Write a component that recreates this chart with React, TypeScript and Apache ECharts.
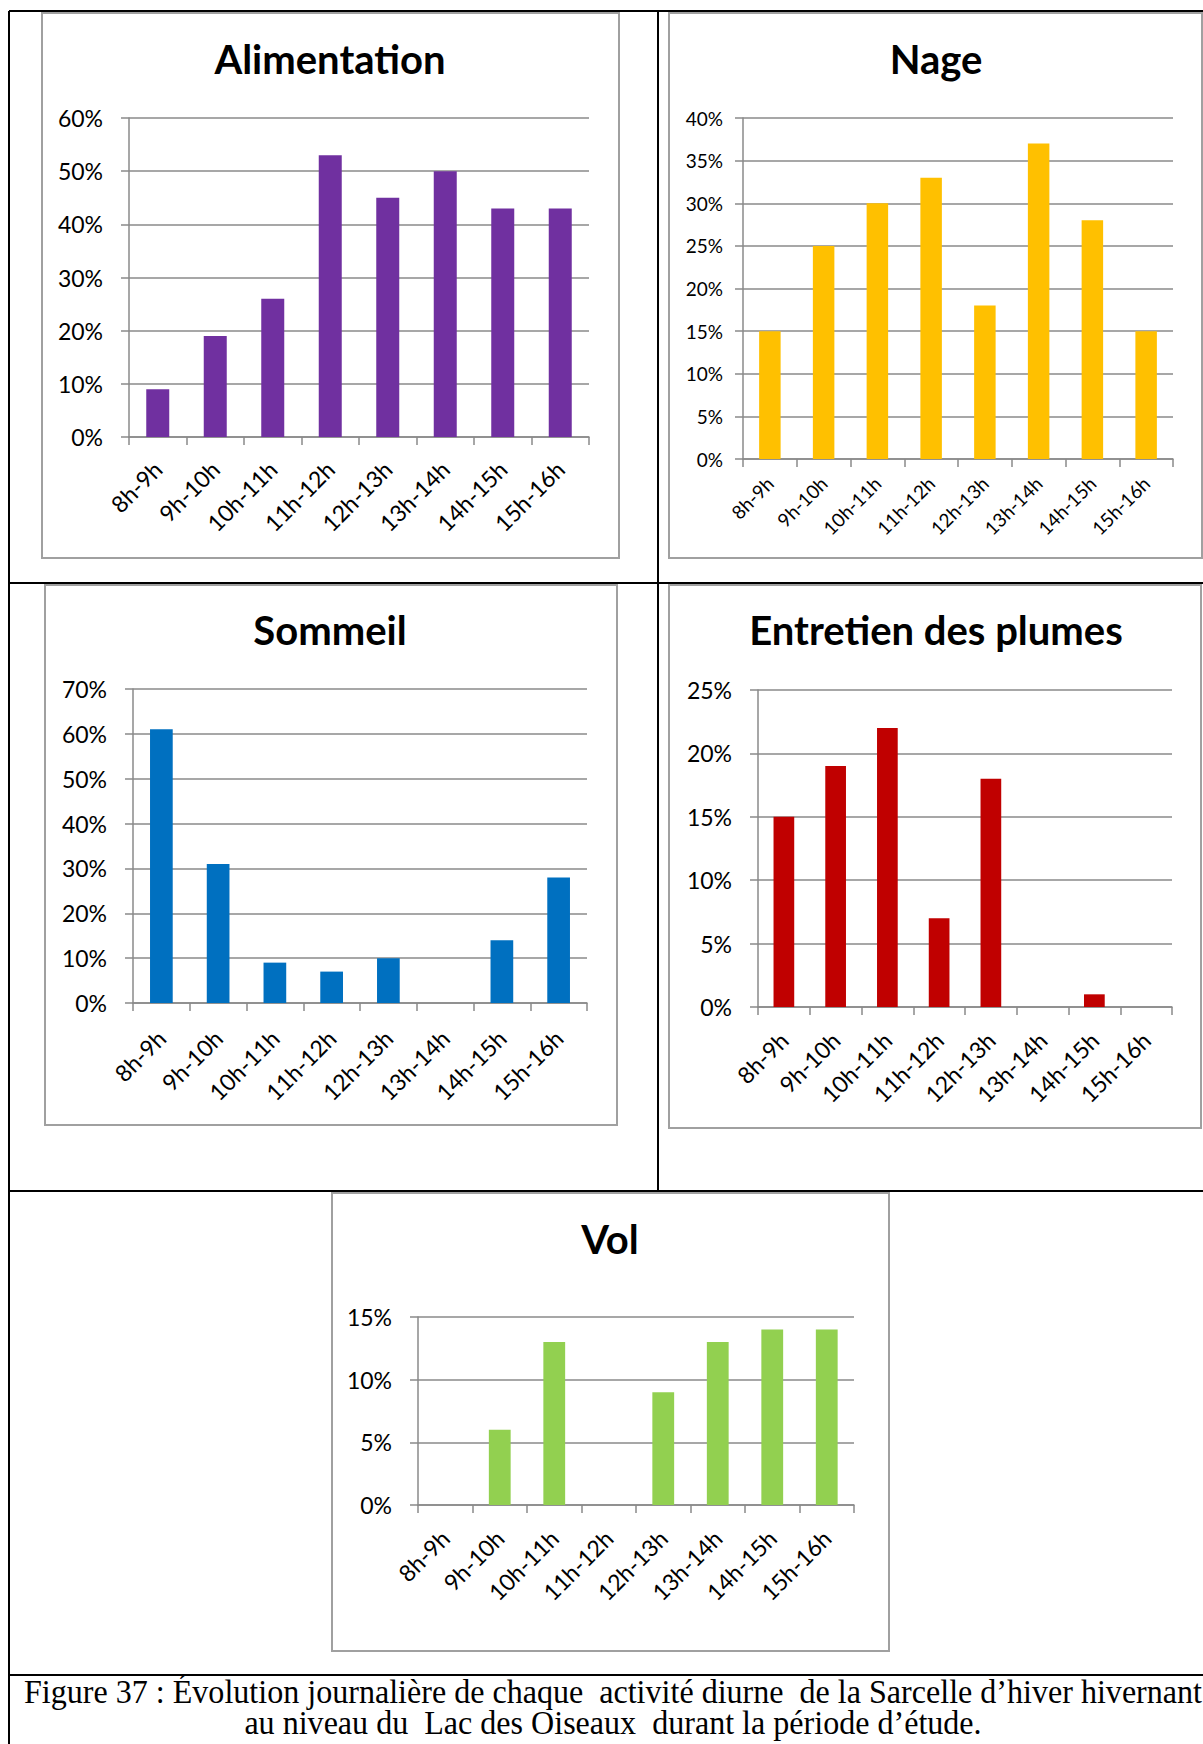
import React, { useEffect, useRef } from "react";
import * as echarts from "echarts";

// Hourly time slots (x categories)
const hours = ["8h-9h", "9h-10h", "10h-11h", "11h-12h", "12h-13h", "13h-14h", "14h-15h", "15h-16h"];

// Share of each activity per time slot, in %
const alimentation = [9, 19, 26, 53, 45, 50, 43, 43];
const nage = [15, 25, 30, 33, 18, 37, 28, 15];
const sommeil = [61, 31, 9, 7, 10, 0, 14, 28];
const entretien = [15, 19, 22, 7, 18, 0, 1, 0];
const vol = [0, 6, 13, 0, 9, 13, 14, 14];

const activityNames = ["Alimentation", "Nage", "Sommeil", "Entretien des plumes", "Vol"];
const activityColors = ["#7030A0", "#FFC000", "#0070C0", "#C00000", "#92D050"];
const axisMax = [60, 40, 70, 25, 15];
const axisStep = [10, 5, 10, 5, 5];

const captionLines = [
  "Figure 37 : Évolution journalière de chaque  activité diurne  de la Sarcelle d’hiver hivernant",
  "au niveau du  Lac des Oiseaux  durant la période d’étude.",
];

const seriesData = [alimentation, nage, sommeil, entretien, vol];

// Layout of the five panels inside the page
const panels = [
  { grid: { left: 129, top: 118, width: 460, height: 319 }, box: [42, 13, 577, 545], title: [330, 59], fs: 23, margin: 26, xMargin: 28 },
  { grid: { left: 743, top: 118, width: 430, height: 341 }, box: [669, 13, 533, 545], title: [936, 59], fs: 19, margin: 20, xMargin: 21 },
  { grid: { left: 133, top: 689, width: 454, height: 314 }, box: [45, 585, 572, 540], title: [330, 630], fs: 23, margin: 26, xMargin: 31 },
  { grid: { left: 758, top: 690, width: 414, height: 317 }, box: [669, 585, 532, 543], title: [936, 630], fs: 23, margin: 26, xMargin: 29 },
  { grid: { left: 418, top: 1317, width: 436, height: 188 }, box: [332, 1193, 557, 458], title: [610, 1239], fs: 23, margin: 26, xMargin: 29 },
];

const FONT = "Lato";
const GRID_GRAY = "#8a8a8a";

function buildOption() {
  const grids = panels.map((p) => ({ ...p.grid, containLabel: false }));

  const xAxes = panels.map((p, i) => ({
    type: "category",
    gridIndex: i,
    data: hours,
    boundaryGap: true,
    axisLine: { show: true, lineStyle: { color: GRID_GRAY, width: 1.5 } },
    axisTick: { show: true, length: 8, alignWithLabel: false, lineStyle: { color: GRID_GRAY, width: 1.5 } },
    axisLabel: {
      interval: 0,
      rotate: 45,
      margin: p.xMargin,
      fontFamily: FONT,
      fontSize: p.fs,
      color: "#000",
    },
    splitLine: { show: false },
  }));

  const yAxes = panels.map((p, i) => ({
    type: "value",
    gridIndex: i,
    min: 0,
    max: axisMax[i],
    interval: axisStep[i],
    axisLine: { show: true, lineStyle: { color: GRID_GRAY, width: 1.5 } },
    axisTick: { show: true, length: 8, lineStyle: { color: GRID_GRAY, width: 1.5 } },
    axisLabel: {
      formatter: "{value}%",
      margin: p.margin,
      fontFamily: FONT,
      fontSize: p.fs,
      color: "#000",
    },
    splitLine: { show: true, lineStyle: { color: GRID_GRAY, width: 1.5 } },
  }));

  const series = seriesData.map((data, i) => ({
    type: "bar",
    name: activityNames[i],
    xAxisIndex: i,
    yAxisIndex: i,
    data,
    barCategoryGap: "60%",
    itemStyle: { color: activityColors[i] },
  }));

  const tableStroke = { stroke: "#000", lineWidth: 2 };
  const tableLines = [
    [9, 11, 1203, 11],
    [9, 11, 9, 1744],
    [658, 11, 658, 1191],
    [9, 583, 1203, 583],
    [9, 1191, 1203, 1191],
    [9, 1675, 1203, 1675],
  ].map(([x1, y1, x2, y2]) => ({
    type: "line",
    shape: { x1, y1, x2, y2 },
    style: tableStroke,
    silent: true,
  }));

  const boxes = panels.map((p) => ({
    type: "rect",
    shape: { x: p.box[0], y: p.box[1], width: p.box[2], height: p.box[3] },
    style: { fill: "none", stroke: "#a0a0a0", lineWidth: 2 },
    silent: true,
  }));

  const titles = panels.map((p, i) => ({
    type: "text",
    x: p.title[0],
    y: p.title[1],
    style: {
      text: activityNames[i],
      fontFamily: FONT,
      fontWeight: "bold",
      fontSize: 40,
      fill: "#000",
      align: "center",
      verticalAlign: "middle",
    },
  }));

  const caption = captionLines.map((line, i) => ({
    type: "text",
    x: 613,
    y: i === 0 ? 1708 : 1739,
    scaleX: 0.972,
    style: {
      text: line,
      fontFamily: "Liberation Serif",
      fontSize: 33,
      fill: "#000",
      align: "center",
      verticalAlign: "bottom",
    },
  }));

  return {
    animation: false,
    backgroundColor: "#fff",
    grid: grids,
    xAxis: xAxes,
    yAxis: yAxes,
    series,
    graphic: [...tableLines, ...boxes, ...titles, ...caption],
  };
}

export default function App() {
  const ref = useRef<HTMLDivElement>(null);

  useEffect(() => {
    if (!ref.current) return;
    const chart = echarts.init(ref.current, null, { renderer: "svg" });
    chart.setOption(buildOption());
    return () => chart.dispose();
  }, []);

  return (
    <div
      ref={ref}
      style={{ position: "absolute", left: 0, top: 0, width: 1203, height: 1744, background: "#fff" }}
    />
  );
}
